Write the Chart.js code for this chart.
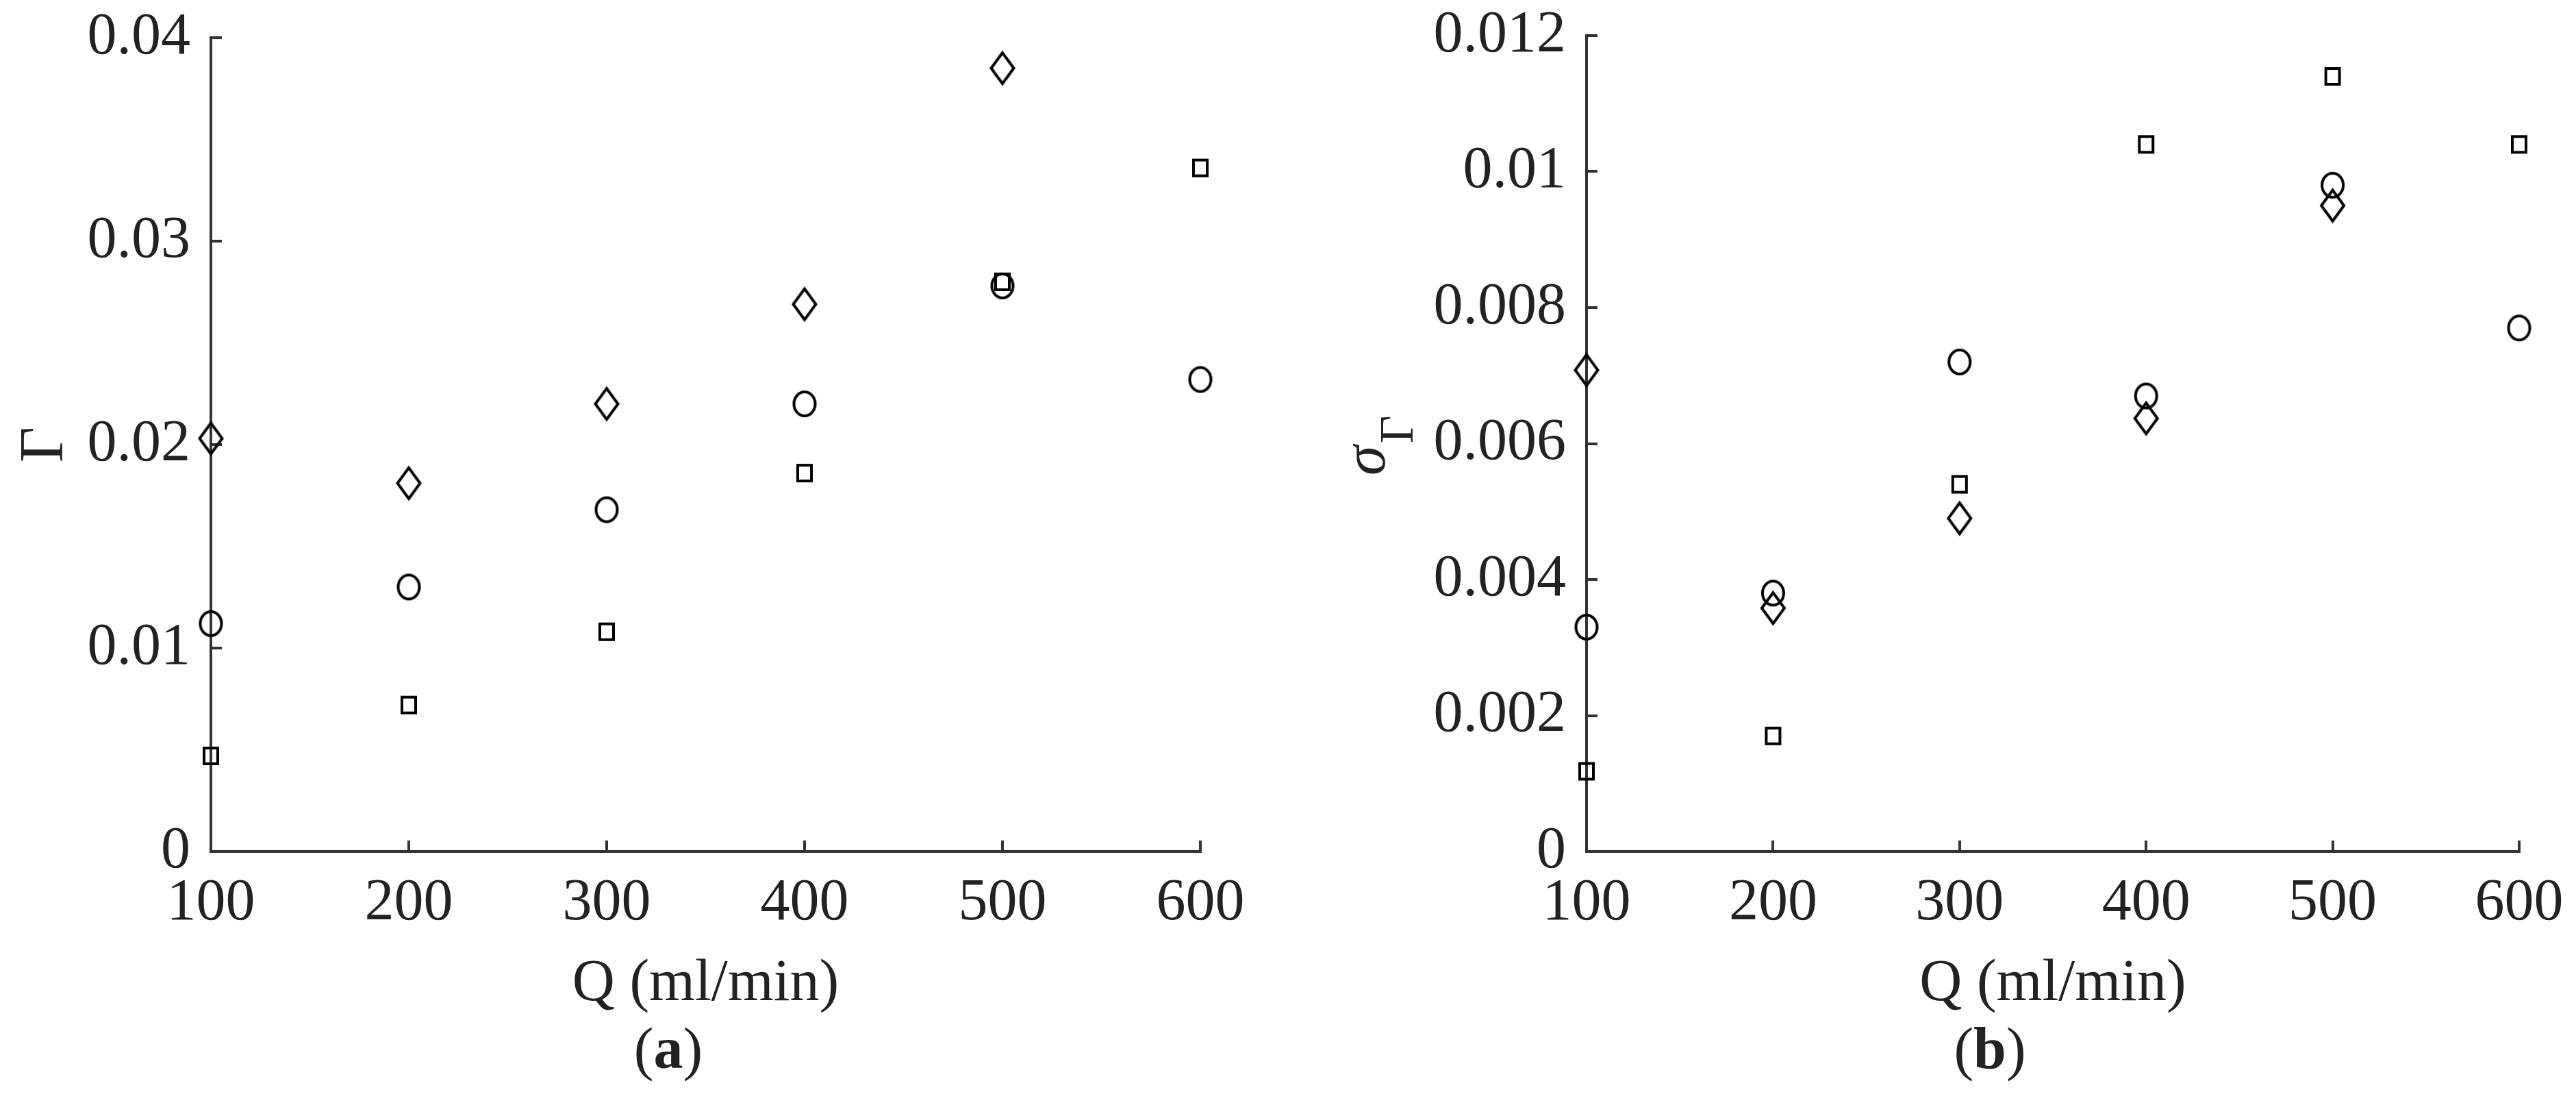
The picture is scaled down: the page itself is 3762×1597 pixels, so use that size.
<!DOCTYPE html>
<html>
<head>
<meta charset="utf-8">
<script src="https://cdn.jsdelivr.net/npm/chart.js@4.4.1/dist/chart.umd.min.js"></script>
<style>
	body { margin: 0; background: #fff; }
	.panel { position: absolute; top: 0; }
</style>
</head>
<body>
<canvas id="chartA" class="panel" width="1881" height="1597" style="left:0"></canvas>
<canvas id="chartB" class="panel" width="1881" height="1597" style="left:1881px"></canvas>
<script>
const flowRates = [100, 200, 300, 400, 500, 600];

// (a) Gamma
const gammaDiamond = [0.0203, 0.0181, 0.0220, 0.0269, 0.0385, null];
const gammaCircle = [0.0112, 0.0130, 0.0168, 0.0220, 0.0278, 0.0232];
const gammaSquare = [0.0047, 0.0072, 0.0108, 0.0186, 0.0280, 0.0336];

// (b) sigma Gamma
const sigmaDiamond = [0.00708, 0.00358, 0.00490, 0.00637, 0.00950, null];
const sigmaCircle = [0.00330, 0.00380, 0.00720, 0.00670, 0.00980, 0.00770];
const sigmaSquare = [0.00118, 0.00170, 0.00540, 0.01040, 0.01140, 0.01040];

const gammaTicks = { min: 0, max: 0.04, step: 0.01 };
const sigmaTicks = { min: 0, max: 0.012, step: 0.002 };

const serif = 'Liberation Serif, Times New Roman, serif';
const axisColor = '#333';
const textColor = '#222';

const makeMarker = (w, h, drawPath) => {
	const c = document.createElement('canvas');
	c.width = w + 8;
	c.height = h + 8;
	const g = c.getContext('2d');
	g.strokeStyle = '#000';
	g.lineWidth = 4;
	g.translate(c.width / 2, c.height / 2);
	g.beginPath();
	drawPath(g, w / 2, h / 2);
	g.stroke();
	return c;
};

const diamondMark = makeMarker(33, 45, (g, hw, hh) => {
	g.moveTo(0, -hh);
	g.lineTo(hw, 0);
	g.lineTo(0, hh);
	g.lineTo(-hw, 0);
	g.closePath();
});
const circleMark = makeMarker(31, 35, (g, hw, hh) => {
	g.ellipse(0, 0, hw, hh, 0, 0, Math.PI * 2);
});
const squareMark = makeMarker(20, 23, (g, hw, hh) => {
	g.rect(-hw, -hh, hw * 2, hh * 2);
});

const toPoints = (values) =>
	flowRates.map((q, i) => ({ x: q, y: values[i] })).filter((p) => p.y !== null);

const makeDatasets = (diamonds, circles, squares) => [
	{ data: toPoints(diamonds), pointStyle: diamondMark },
	{ data: toPoints(circles), pointStyle: circleMark },
	{ data: toPoints(squares), pointStyle: squareMark },
].map((ds) => ({ ...ds, pointRadius: 16, clip: false }));

const tickFormat = (v) => String(+v.toFixed(4));

// caption under each panel, letter in bold
const captionPlugin = {
	id: 'caption',
	afterDraw(chart, args, opts) {
		const ctx = chart.ctx;
		ctx.save();
		ctx.fillStyle = textColor;
		ctx.textBaseline = 'middle';
		const parts = [
			{ t: '(', f: `86px ${serif}` },
			{ t: opts.letter, f: `bold 86px ${serif}` },
			{ t: ')', f: `86px ${serif}` },
		];
		let total = 0;
		parts.forEach((p) => {
			ctx.font = p.f;
			p.w = ctx.measureText(p.t).width;
			total += p.w;
		});
		let x = opts.x - total / 2;
		parts.forEach((p) => {
			ctx.font = p.f;
			ctx.textAlign = 'left';
			ctx.fillText(p.t, x, opts.y);
			x += p.w;
		});
		ctx.restore();
	},
};

// sigma with subscript Gamma, rotated like a y title
const sigmaTitlePlugin = {
	id: 'sigmaTitle',
	afterDraw(chart, args, opts) {
		if (!opts.show) return;
		const ctx = chart.ctx;
		ctx.save();
		ctx.fillStyle = textColor;
		ctx.translate(141, 650);
		ctx.rotate(-Math.PI / 2);
		ctx.textAlign = 'left';
		ctx.textBaseline = 'alphabetic';
		ctx.font = `italic 88px ${serif}`;
		ctx.fillText('σ', -44, 0);
		ctx.font = `70px ${serif}`;
		ctx.fillText('Γ', 3, 41);
		ctx.restore();
	},
};

const makeConfig = (datasets, range, yTitle, size) => ({
	type: 'scatter',
	data: { datasets },
	plugins: [captionPlugin, sigmaTitlePlugin],
	options: {
		responsive: false,
		animation: false,
		events: [],
		layout: { padding: { left: 0, top: size.top, right: size.right, bottom: 0 } },
		plugins: {
			legend: { display: false },
			tooltip: { enabled: false },
			caption: size.caption,
			sigmaTitle: { show: !yTitle },
		},
		scales: {
			x: {
				type: 'linear',
				min: 100,
				max: 600,
				ticks: {
					stepSize: 100,
					padding: 41,
					color: textColor,
					font: { family: serif, size: 86 },
				},
				grid: {
					drawOnChartArea: false,
					tickLength: -16,
					color: axisColor,
					lineWidth: 4,
				},
				border: { color: axisColor, width: 4 },
				title: {
					display: true,
					text: 'Q (ml/min)',
					color: textColor,
					font: { family: serif, size: 86 },
					padding: { top: 0, bottom: 108 },
				},
				afterFit(scale) {
					scale.height = 1597 - 1243;
					scale.paddingLeft = 0;
					scale.paddingRight = 0;
				},
			},
			y: {
				type: 'linear',
				min: range.min,
				max: range.max,
				ticks: {
					stepSize: range.step,
					padding: 46,
					color: textColor,
					font: { family: serif, size: 86 },
					callback: tickFormat,
				},
				grid: {
					drawOnChartArea: false,
					tickLength: -16,
					color: axisColor,
					lineWidth: 4,
				},
				border: { color: axisColor, width: 4 },
				title: {
					display: !!yTitle,
					text: yTitle || '',
					color: textColor,
					font: { family: serif, size: 90 },
					padding: { top: 13, bottom: 0 },
				},
				afterFit(scale) {
					scale.width = size.left;
					scale.paddingTop = 0;
					scale.paddingBottom = 0;
				},
			},
		},
	},
});

new Chart(
	document.getElementById('chartA').getContext('2d'),
	makeConfig(makeDatasets(gammaDiamond, gammaCircle, gammaSquare), gammaTicks, 'Γ', {
		left: 308,
		top: 55,
		right: 1881 - 1753,
		caption: { letter: 'a', x: 976, y: 1537 },
	})
);

new Chart(
	document.getElementById('chartB').getContext('2d'),
	makeConfig(makeDatasets(sigmaDiamond, sigmaCircle, sigmaSquare), sigmaTicks, null, {
		left: 2317 - 1881,
		top: 52,
		right: 1881 - (3679 - 1881),
		caption: { letter: 'b', x: 2906 - 1881, y: 1537 },
	})
);
</script>
</body>
</html>
